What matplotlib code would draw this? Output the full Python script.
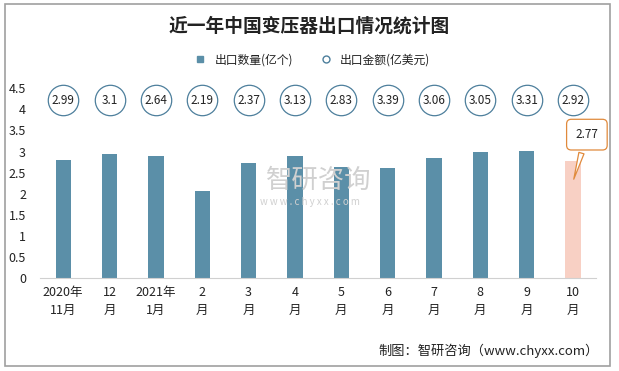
import matplotlib.pyplot as plt
from matplotlib.lines import Line2D
from matplotlib.patches import Rectangle

plt.rcParams['font.family'] = ['Noto Sans CJK SC', 'DejaVu Sans']

# Data
months = ["2020年\n11月", "12\n月", "2021年\n1月", "2\n月", "3\n月", "4\n月",
          "5\n月", "6\n月", "7\n月", "8\n月", "9\n月", "10\n月"]
quantity = [2.80, 2.94, 2.90, 2.07, 2.73, 2.90, 2.64, 2.61, 2.85, 2.99, 3.02, 2.77]
amount = [2.99, 3.1, 2.64, 2.19, 2.37, 3.13, 2.83, 3.39, 3.06, 3.05, 3.31, 2.92]
circle_level = 4.22

bar_color = "#5b8fa8"
last_color = "#f8d0c4"
circle_edge = "#4d7f9c"

fig = plt.figure(figsize=(6.19, 3.71), dpi=100)
ax = fig.add_axes([0.0646, 0.2507, 0.8985, 0.5114])

x = list(range(len(months)))
colors = [bar_color] * (len(months) - 1) + [last_color]
ax.bar(x, quantity, width=0.33, color=colors, zorder=2)

# amount shown as labelled circles in a row above the bars
ax.scatter(x, [circle_level] * len(x), s=480, facecolor="white",
           edgecolor=circle_edge, linewidth=0.9, zorder=3, clip_on=False)
for xi, v in zip(x, amount):
    ax.text(xi, circle_level, f"{v:g}", ha="center", va="center",
            fontsize=8.5, color="#222222", zorder=4)

# callout for the last bar
ax.annotate(f"{quantity[-1]:g}", xy=(x[-1], 2.28), xytext=(x[-1] + 0.3, 3.4),
            ha="center", va="center", fontsize=8.5, color="#222222",
            bbox=dict(boxstyle="round,pad=0.75,rounding_size=0.4",
                      fc="white", ec="#e08a3c", lw=0.9),
            arrowprops=dict(arrowstyle="wedge,tail_width=0.45,shrink_factor=0.5",
                            fc="white", ec="#e08a3c", lw=0.9),
            zorder=5)

ax.set_xlim(-0.5, len(months) - 0.5)
ax.set_ylim(0, 4.5)
ax.set_yticks([0, 0.5, 1, 1.5, 2, 2.5, 3, 3.5, 4, 4.5])
ax.set_yticklabels(["0", "0.5", "1", "1.5", "2", "2.5", "3", "3.5", "4", "4.5"])
ax.set_xticks(x)
ax.set_xticklabels(months, fontsize=9, color="#222222", linespacing=1.5)
ax.tick_params(axis="y", length=0, labelsize=9, colors="#222222", pad=10)
ax.tick_params(axis="x", length=0, pad=6)
for side in ["top", "right", "left"]:
    ax.spines[side].set_visible(False)
ax.spines["bottom"].set_color("#d0d0d0")

# watermark
fig.text(0.515, 0.515, "智研咨询", ha="center", va="center", fontsize=19,
         color="#d0d0d0", zorder=0)
fig.text(0.5, 0.455, "w w w . c h y x x . c o m", ha="center", va="center",
         fontsize=7, color="#d0d0d0", zorder=0)

fig.text(0.5, 0.93, "近一年中国变压器出口情况统计图", ha="center", va="center",
         fontsize=13.5, fontweight="bold", color="#222222")

handles = [
    Line2D([], [], marker="s", linestyle="none", markersize=5,
           markerfacecolor=bar_color, markeredgecolor=bar_color),
    Line2D([], [], marker="o", linestyle="none", markersize=5,
           markerfacecolor="white", markeredgecolor=circle_edge),
]
fig.legend(handles, ["出口数量(亿个)", "出口金额(亿美元)"], loc="center",
           bbox_to_anchor=(0.5, 0.838), ncol=2, frameon=False, fontsize=8.5,
           handletextpad=0.2, columnspacing=1.8, labelcolor="#222222")

fig.text(0.968, 0.055, "制图：智研咨询（www.chyxx.com）", ha="right", va="center",
         fontsize=9.5, color="#222222")

# outer frame
fig.patches.append(Rectangle((0.008, 0.013), 0.978, 0.975, transform=fig.transFigure,
                             fill=False, ec="#a0a0a0", lw=1.2))

fig.savefig("out.png", dpi=100)
